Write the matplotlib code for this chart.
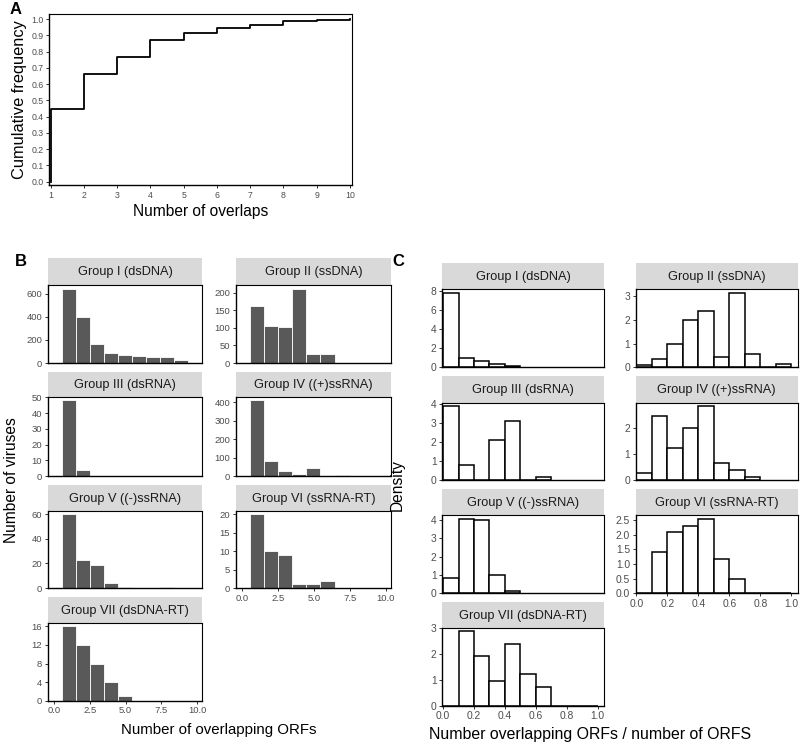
import matplotlib
matplotlib.use('Agg')
import matplotlib.pyplot as plt
import numpy as np

plt.rcParams['font.family'] = ['Liberation Sans', 'DejaVu Sans']

W, H = 800, 747

# A: cumulative frequency of number of overlaps
overlaps = np.arange(1, 11)
cum_freq = [0.45, 0.66, 0.765, 0.87, 0.915, 0.945, 0.965, 0.985, 0.995, 1.0]

groups = ['Group I (dsDNA)', 'Group II (ssDNA)', 'Group III (dsRNA)',
          'Group IV ((+)ssRNA)', 'Group V ((-)ssRNA)', 'Group VI (ssRNA-RT)',
          'Group VII (dsDNA-RT)']

# B: number of viruses per number of overlapping ORFs (1, 2, 3 ...)
counts_I = [643, 401, 164, 87, 69, 58, 55, 52, 29]
counts_II = [164, 106, 104, 212, 27, 27, 1]
counts_III = [48, 4]
counts_IV = [411, 83, 26, 11, 41, 0, 3]
counts_V = [60, 23, 19, 4, 1, 0, 0, 1]
counts_VI = [20, 10, 9, 1, 1, 2]
counts_VII = [16, 12, 8, 4, 1]
counts = [counts_I, counts_II, counts_III, counts_IV, counts_V, counts_VI, counts_VII]

# C: density of overlapping ORFs / ORFs, bins of 0.1 starting at 0
dens_I = [7.75, 1.0, 0.68, 0.37, 0.17]
dens_II = [0.1, 0.34, 0.98, 1.98, 2.36, 0.45, 3.14, 0.55, 0.03, 0.13]
dens_III = [3.86, 0.77, 0, 2.12, 3.1, 0, 0.17]
dens_IV = [0.25, 2.45, 1.24, 2.01, 2.83, 0.64, 0.39, 0.13]
dens_V = [0.85, 4.07, 3.98, 1.0, 0.12]
dens_VI = [0, 1.4, 2.08, 2.31, 2.55, 1.17, 0.48, 0, 0, 0]
dens_VII = [0, 2.86, 1.91, 0.96, 2.38, 1.22, 0.73, 0, 0, 0]
dens = [dens_I, dens_II, dens_III, dens_IV, dens_V, dens_VI, dens_VII]

yticks_B = [[0, 200, 400, 600], [0, 50, 100, 150, 200], [0, 10, 20, 30, 40, 50],
            [0, 100, 200, 300, 400], [0, 20, 40, 60], [0, 5, 10, 15, 20], [0, 4, 8, 12, 16]]
yticks_C = [[0, 2, 4, 6, 8], [0, 1, 2, 3], [0, 1, 2, 3, 4], [0, 1, 2],
            [0, 1, 2, 3, 4], [0, 0.5, 1, 1.5, 2, 2.5], [0, 1, 2, 3]]

fig = plt.figure(figsize=(W / 100, H / 100), dpi=100)


def px_axes(l, t, r, b):
    return fig.add_axes([l / W, 1 - b / H, (r - l) / W, (b - t) / H])


def style(ax, fs):
    for s in ax.spines.values():
        s.set_color('black')
        s.set_linewidth(0.8)
    ax.spines['left'].set_linewidth(1.0)
    ax.spines['bottom'].set_linewidth(1.0)
    ax.tick_params(length=2.5, width=0.7, color='#333333', labelsize=fs,
                   labelcolor='#4d4d4d', pad=1.5)


def strip(l, t, r, b, label):
    s = px_axes(l, t, r, b)
    s.set_facecolor('#d9d9d9')
    for sp in s.spines.values():
        sp.set_visible(False)
    s.set_xticks([])
    s.set_yticks([])
    s.text(0.5, 0.47, label, ha='center', va='center', fontsize=9.2,
           color='#1a1a1a', transform=s.transAxes)


# ---- panel A
ax = px_axes(49.3, 14.3, 352.3, 185)
ax.plot(np.r_[1, overlaps], np.r_[0, cum_freq], drawstyle='steps-post',
        color='black', lw=1.3)
ax.set_xlim(0.958, 10.07)
ax.set_ylim(-0.02, 1.029)
ax.set_xticks(overlaps)
ax.set_yticks(np.arange(0, 1.01, 0.1))
ax.set_yticklabels(['%.1f' % v for v in np.arange(0, 1.01, 0.1)])
style(ax, 6.3)
ax.set_xlabel('Number of overlaps', fontsize=11.2, labelpad=3)
ax.set_ylabel('Cumulative frequency', fontsize=11.8, labelpad=3)
fig.text(10 / W, 1 - 9 / H, 'A', fontsize=12, fontweight='bold', va='center')

# ---- panel B
colsB = [(47.7, 202.3), (235.7, 391)]
rowsB = [(258.3, 285, 363), (371.7, 396.7, 476), (485, 510.5, 588), (597, 622.7, 700.7)]
binw = 0.985
for i, g in enumerate(groups):
    r, c = divmod(i, 2)
    l, rr = colsB[c]
    st, pt, pb = rowsB[r]
    strip(l, st, rr, pt, g)
    ax = px_axes(l, pt, rr, pb)
    vals = counts[i]
    centers = 1.02 + binw * np.arange(len(vals))
    ax.bar(centers, vals, width=binw, color='#595959', edgecolor='white', lw=0.6)
    ax.set_xlim(-0.44, 10.37)
    ax.set_ylim(0, max(vals) * 1.05)
    ax.set_yticks(yticks_B[i])
    style(ax, 6.8)
    if i in (5, 6):
        ax.set_xticks([0, 2.5, 5, 7.5, 10])
        ax.set_xticklabels(['0.0', '2.5', '5.0', '7.5', '10.0'])
    else:
        ax.set_xticks([])
fig.text(15 / W, 1 - 262 / H, 'B', fontsize=12, fontweight='bold', va='center')
fig.text(12 / W, 1 - 480 / H, 'Number of viruses', fontsize=11.2, rotation=90,
         ha='center', va='center')
fig.text(219 / W, 1 - 730 / H, 'Number of overlapping ORFs', fontsize=10.8,
         ha='center', va='center')

# ---- panel C
colsC = [(442.3, 604), (635.5, 797.5)]
rowsC = [(263.3, 289.3, 367.3), (376, 402.7, 480), (488.5, 515, 593.3), (602.3, 627.7, 705.7)]
edges = np.arange(0, 1.01, 0.1)
for i, g in enumerate(groups):
    r, c = divmod(i, 2)
    l, rr = colsC[c]
    st, pt, pb = rowsC[r]
    strip(l, st, rr, pt, g)
    ax = px_axes(l, pt, rr, pb)
    vals = dens[i]
    ax.bar(edges[:len(vals)], vals, width=0.1, align='edge', color='white',
           edgecolor='black', lw=1.1)
    ax.set_xlim(-0.005, 1.04)
    ax.set_ylim(0, max(vals) * 1.05)
    ax.set_yticks(yticks_C[i])
    if i == 5:
        ax.set_yticklabels(['%.1f' % v for v in yticks_C[i]])
    style(ax, 7.4)
    if i in (5, 6):
        ax.set_xticks(np.arange(0, 1.01, 0.2))
        ax.set_xticklabels(['%.1f' % v for v in np.arange(0, 1.01, 0.2)])
    else:
        ax.set_xticks([])
fig.text(392 / W, 1 - 262 / H, 'C', fontsize=12, fontweight='bold', va='center')
fig.text(397 / W, 1 - 485 / H, 'Density', fontsize=11.2, rotation=90,
         ha='center', va='center')
fig.text(590 / W, 1 - 735 / H, 'Number overlapping ORFs / number of ORFS',
         fontsize=11.4, ha='center', va='center')

fig.savefig('out.png', dpi=100)
